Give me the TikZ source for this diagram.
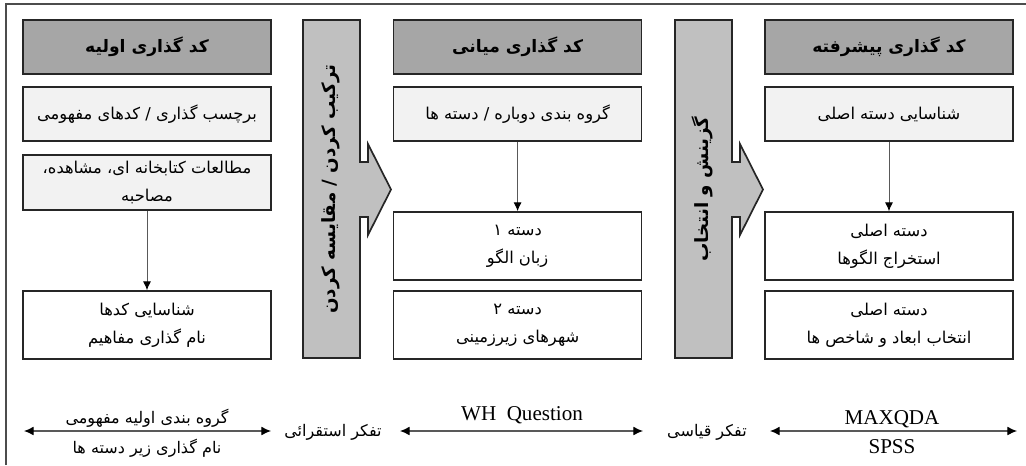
\documentclass[tikz,border=0pt]{standalone}
\usepackage{fontspec}
\setmainfont{Liberation Serif}
\newfontfamily\persianfont[Script=Arabic]{DejaVu Sans}
\usetikzlibrary{arrows.meta}
\TeXXeTstate=1
\newcommand{\fatxt}[1]{\beginR #1\endR}
\definecolor{headgray}{HTML}{A6A6A6}
\definecolor{bandgray}{HTML}{C0C0C0}
\definecolor{boxgray}{HTML}{F2F2F2}
\definecolor{edgegray}{HTML}{262626}

\begin{document}
\begin{tikzpicture}[
	stagebox/.style={draw=edgegray, line width=1.2pt, minimum width=6.2cm, inner sep=0pt, align=center,
		font=\persianfont\fontsize{11.6}{20}\selectfont},
	headbox/.style={stagebox, fill=headgray, minimum height=1.35cm, font=\persianfont\bfseries\fontsize{12.2}{18}\selectfont},
	lightbox/.style={stagebox, fill=boxgray},
	whitebox/.style={stagebox, fill=white, minimum height=1.7cm},
	band/.style={draw=edgegray, line width=1.2pt, fill=bandgray},
	bandtext/.style={rotate=90, font=\persianfont\bfseries\fontsize{13}{18}\selectfont},
	flow/.style={draw=gray!70!black, line width=0.6pt, -{Latex[length=2.2mm,width=2mm,black]}},
	span/.style={draw=black!65, line width=0.8pt, {Latex[length=2.4mm,width=2.2mm,black]}-{Latex[length=2.4mm,width=2.2mm,black]}},
	label/.style={font=\persianfont\fontsize{11.4}{16}\selectfont},
	latin/.style={font=\fontsize{15}{18}\selectfont}
	]
	\useasboundingbox (0,0) rectangle (25.65,-11.625);
	\draw[line width=0.8pt, color=black!70] (0.15,-11.625) -- (0.15,-0.1) -- (25.65,-0.1);
	
	% first column
	\node[headbox] (h1) at (3.675,-1.175) {\fatxt{کد گذاری اولیه}};
	\node[lightbox, minimum height=1.35cm] (a1) at (3.675,-2.85) {\fatxt{برچسب گذاری / کدهای مفهومی}};
	\node[lightbox, minimum height=1.375cm] (b1) at (3.675,-4.5625) {\fatxt{مطالعات کتابخانه ای، مشاهده،}\\\fatxt{مصاحبه}};
	\node[whitebox] (c1) at (3.675,-8.125) {\fatxt{شناسایی کدها}\\\fatxt{نام گذاری مفاهیم}};
	\draw[flow] (b1) -- (c1);
	
	% second column
	\node[headbox] (h2) at (12.94,-1.175) {\fatxt{کد گذاری میانی}};
	\node[lightbox, minimum height=1.35cm] (a2) at (12.94,-2.85) {\fatxt{گروه بندی دوباره / دسته ها}};
	\node[whitebox] (b2) at (12.94,-6.15) {\fatxt{دسته ۱}\\\fatxt{زبان الگو}};
	\node[whitebox] (c2) at (12.94,-8.125) {\fatxt{دسته ۲}\\\fatxt{شهرهای زیرزمینی}};
	\draw[flow] (a2) -- (b2);
	
	% third column
	\node[headbox] (h3) at (22.225,-1.175) {\fatxt{کد گذاری پیشرفته}};
	\node[lightbox, minimum height=1.35cm] (a3) at (22.225,-2.85) {\fatxt{شناسایی دسته اصلی}};
	\node[whitebox] (b3) at (22.225,-6.15) {\fatxt{دسته اصلی}\\\fatxt{استخراج الگوها}};
	\node[whitebox] (c3) at (22.225,-8.125) {\fatxt{دسته اصلی}\\\fatxt{انتخاب ابعاد و شاخص ها}};
	\draw[flow] (a3) -- (b3);
	
	% block arrows between the columns
	\foreach \x/\name in {7.575/k1, 16.875/k2}
	{
		\draw[band] (\x,-0.5) -- ++(1.425,0) -- ++(0,-3.55) -- ++(0.2,0) -- ++(0,0.45)
			-- ++(0.575,-1.1375) -- ++(-0.575,-1.1375) -- ++(0,0.45) -- ++(-0.2,0)
			-- ++(0,-3.525) -- ++(-1.425,0) -- cycle;
		\coordinate (\name) at (\x+0.69,-4.725);
	}
	\node[bandtext] (t1) at (k1) {\fatxt{ترکیب کردن / مقایسه کردن}};
	\node[bandtext] (t2) at (k2) {\fatxt{گزینش و انتخاب}};
	
	% bottom row
	\coordinate (l1) at (0.6,-10.775);   \coordinate (r1) at (6.775,-10.775);
	\coordinate (l2) at (10.0,-10.775);  \coordinate (r2) at (16.075,-10.775);
	\coordinate (l3) at (19.25,-10.775); \coordinate (r3) at (25.425,-10.775);
	\draw[span] (l1) -- (r1);
	\draw[span] (l2) -- (r2);
	\draw[span] (l3) -- (r3);
	\node[label] (p1) at (3.675,-10.45) {\fatxt{گروه بندی اولیه مفهومی}};
	\node[label] (q1) at (3.675,-11.2) {\fatxt{نام گذاری زیر دسته ها}};
	\node[label] (m1) at (8.325,-10.8) {\fatxt{تفکر استقرائی}};
	\node[latin] (p2) at (13.05,-10.375) {WH\ \ Question};
	\node[label] (m2) at (17.675,-10.8) {\fatxt{تفکر قیاسی}};
	\node[latin] (p3) at (22.3,-10.47) {MAXQDA};
	\node[latin] (q3) at (22.3,-11.17) {SPSS};
\end{tikzpicture}
\end{document}
